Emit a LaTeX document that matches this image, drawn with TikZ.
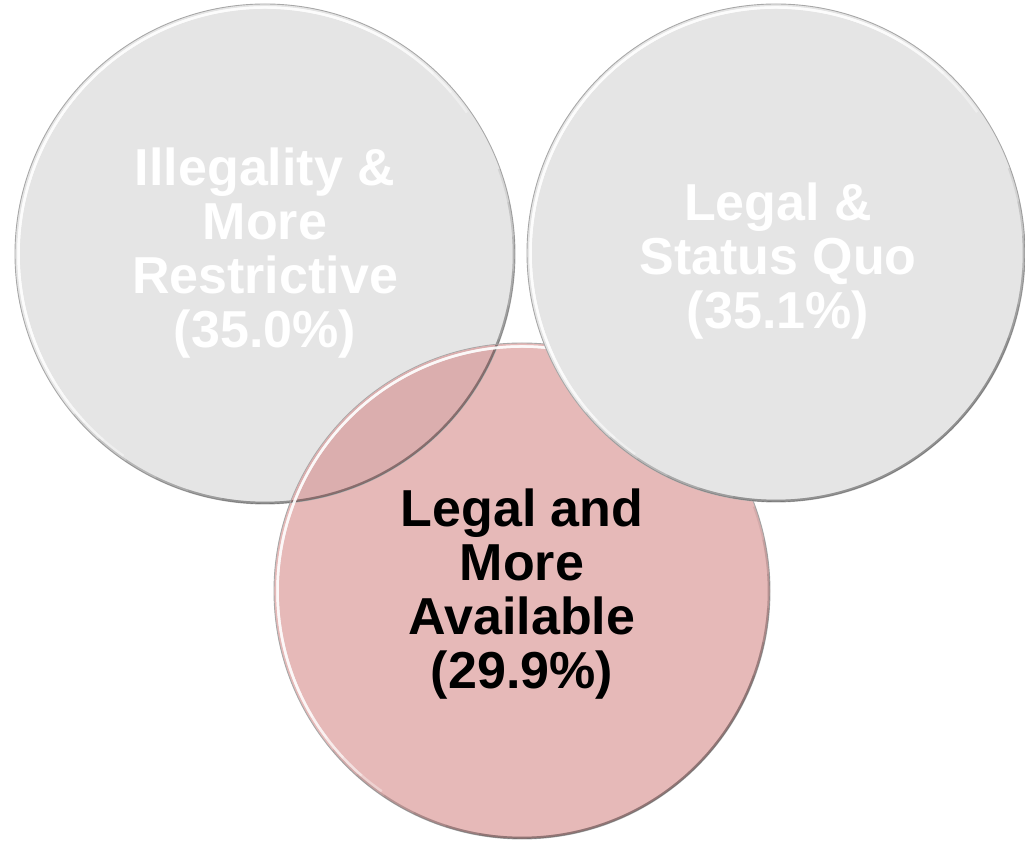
\documentclass[tikz,border=0pt]{standalone}
\usepackage{fontspec}
\setmainfont{Liberation Sans}
\definecolor{circgray}{HTML}{E5E5E5}
\definecolor{circpink}{HTML}{E6B9B8}
\definecolor{overpink}{HTML}{DBAEAE}
\definecolor{rimgray}{HTML}{A8A8A8}
\begin{document}
\begin{tikzpicture}[x=1pt,y=1pt,
  bubble/.style={circle,inner sep=0pt,minimum size=#1,draw=rimgray,line width=0.9pt},
  graybubble/.style={bubble=#1,fill=circgray},
  pinkbubble/.style={bubble=#1,fill=circpink},
  label/.style={font=\fontsize{52}{54}\selectfont\bfseries,align=center,inner sep=0pt},
  highlight/.style={white,line width=2.5pt,opacity=0.35},
  shade/.style={black,line width=2.2pt,opacity=0.07}]
\newcommand\bevel[2]{% #1 centre node, #2 radius in pt
  \foreach \k in {0,...,5}{
    \draw[highlight] (#1.center) ++({65-6*\k}:{#2-3.5pt}) arc[start angle={65-6*\k},end angle={205+6*\k},radius={#2-3.5pt}];
    \draw[shade] (#1.center) ++({-140+8*\k}:{#2-1.2pt}) arc[start angle={-140+8*\k},end angle={20-8*\k},radius={#2-1.2pt}];
  }}
\useasboundingbox (0,0) rectangle (1025,841);
% left circle
\node[graybubble=500pt] (left) at (265,587) {};
\bevel{left}{250pt}
% pink circle
\node[pinkbubble=496pt] (pink) at (522,250) {};
\begin{scope}
  \clip (pink.center) circle[radius=247.5pt];
  \fill[overpink] (left.center) circle[radius=250pt];
  \draw[rimgray,line width=0.9pt] (left.center) circle[radius=250pt];
  \bevel{left}{250pt}
\end{scope}
\bevel{pink}{248pt}
% right circle
\node[graybubble=498pt] (right) at (776,588) {};
\bevel{right}{249pt}
% texts
\node[label,text=white] (lefttext) at ([yshift=1pt]left.center) {Illegality \&\\More\\Restrictive\\(35.0\%)};
\node[label,text=white] (righttext) at ([xshift=2pt,yshift=-8pt]right.center) {Legal \&\\Status Quo\\(35.1\%)};
\node[label,text=black] (pinktext) at ([yshift=-3pt]pink.center) {Legal and\\More\\Available\\(29.9\%)};
\end{tikzpicture}
\end{document}
